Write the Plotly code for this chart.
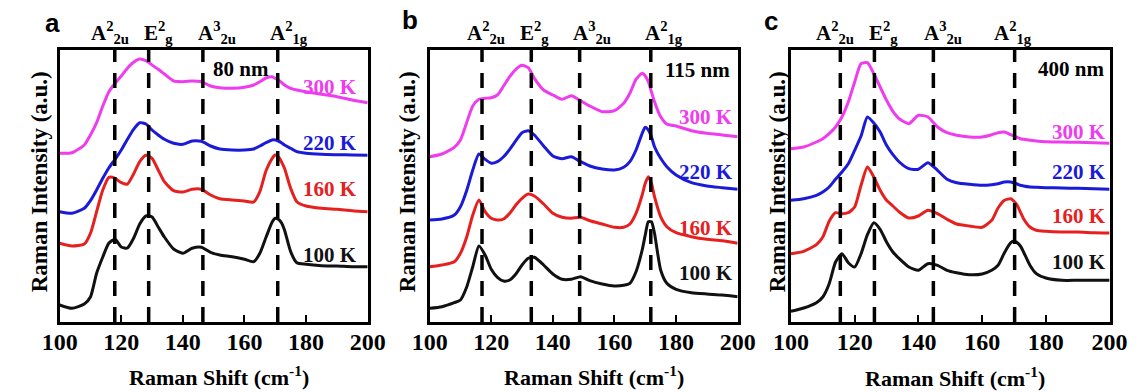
import plotly.graph_objects as go

# Raman shift grid (cm^-1), shared by all curves
X = [100, 104, 108, 110, 112, 114, 116, 118, 120, 122, 124, 126, 128, 130, 132, 134, 137, 140, 143,
     146, 149, 152, 156, 160, 163, 165, 167, 169, 170, 171, 172, 173, 175, 177, 180, 185, 190, 195, 200]

# Panel a (80 nm) intensities (a.u., offset stacked)
a_100K = [17, 13.7, 18, 25, 48.7, 65, 79, 82.7, 75, 74, 83.7, 98, 106, 105, 95, 85, 73, 68.7, 73.7, 74.7,
          69.7, 67, 65.3, 62.7, 60.3, 68.7, 84.7, 100, 103.7, 102.7, 99.3, 92, 70.3, 59.3, 57.7, 56.3, 56, 55.3, 55.3]
a_160K = [78.7, 76, 78, 88.7, 110.3, 132, 144.7, 143.7, 139.3, 138, 148, 160.3, 166.7, 163.7, 152, 140.3, 131.3,
          130, 132.7, 132.7, 127, 123.3, 122, 121, 120, 130.3, 151.3, 163.7, 167, 165.3, 160.3, 153.7, 133.7,
          120.3, 116, 113.7, 112.7, 111.3, 110.3]
a_220K = [110.3, 108.7, 113.7, 121.3, 132, 143.7, 154.3, 162.7, 172, 182.7, 192.7, 199.3, 198, 192, 187, 182.7,
          178.7, 177.7, 181, 180.7, 176, 173, 172, 172, 173, 176, 179.3, 182, 182, 181, 179.3, 177, 173.7, 170.3,
          168.7, 167.7, 167.3, 167, 166.7]
a_300K = [168.7, 169.3, 177, 187, 199.3, 216, 230.3, 238.7, 246, 253.7, 259.7, 263, 261.3, 257, 252.7, 248, 241,
          240.3, 241, 240.3, 236, 234.3, 233.7, 234.7, 237, 240.3, 244, 245.3, 243.7, 242, 239.7, 237, 233.7, 232,
          230.3, 227.7, 225.3, 222, 219.3]

# Panel b (115 nm)
b_100K = [13.7, 15.3, 19.3, 22, 34.7, 55.3, 76, 67, 52.7, 44.7, 41, 42, 48, 57, 63.7, 64.7, 57, 48, 42.7, 42.7,
          45.3, 41.3, 38, 36, 36.7, 38.7, 50.3, 72, 87, 100.3, 100.3, 88.7, 52, 38.7, 32.7, 29.3, 28, 27, 25.3]
b_160K = [55.3, 57, 60.3, 68.7, 84.7, 107, 122, 110.3, 103.7, 102, 103, 108.7, 117, 123.7, 128, 126, 118, 108.7,
          104.7, 103.7, 104.7, 101.3, 98, 94.7, 94.7, 98, 108.7, 127, 138.7, 145.3, 138.7, 125.3, 105.3, 95.3,
          89.3, 85.3, 82.7, 81.3, 78.7]
b_220K = [102, 103, 107, 115.3, 131.3, 152, 168, 162.7, 158.7, 160.3, 165.3, 172.7, 181.3, 189.3, 191.3, 187,
          176, 166, 163.3, 165.3, 160.3, 156, 153, 152, 154.7, 160.3, 172, 188.7, 194.7, 192, 185.3, 175.3, 163.7,
          155.3, 147, 139.3, 136, 134.3, 132.7]
b_300K = [165.3, 168, 174.7, 182, 199.3, 216, 222.7, 223.7, 224.3, 227, 236, 245.3, 252.7, 256.7, 254.3, 243.7,
          232, 227, 222.7, 226.3, 221.3, 216, 210.3, 211.3, 218.7, 228.7, 242.7, 248.7, 246, 240.3, 230.3, 220.3,
          205.3, 198, 196, 191.3, 188.7, 187, 185.3]

# Panel c (400 nm)
c_100K = [10.7, 14, 19.3, 25, 38.3, 60, 68.3, 59.3, 55, 68.3, 87.3, 99.3, 92.7, 80, 70, 63.3, 55, 51.7, 58.3,
          56.7, 51.7, 49.3, 47.3, 48, 51.7, 56.7, 69.3, 79.3, 81, 79.3, 76, 70, 56.7, 48.3, 44, 41.7, 41.7, 41.7, 41.7]
c_160K = [68.3, 70.7, 77.3, 85, 100.7, 109.3, 108.3, 109.3, 115, 136.7, 155, 145, 131.7, 121.7, 116, 110, 104,
          106, 111.7, 108.3, 102.7, 98, 96, 94.7, 101.7, 114, 121.7, 123.3, 120.7, 116.7, 110, 103.3, 95, 91.7,
          90.7, 90, 90, 89.3, 89]
c_220K = [121.7, 123.3, 126.7, 130, 135, 142.7, 150, 158.3, 171.7, 186, 205, 199, 190, 176.7, 167.3, 160, 153.3,
          152.7, 159.3, 151.7, 142.7, 139.3, 137.7, 136.7, 137.3, 138.3, 140, 140, 139, 138, 136.7, 136, 135,
          134.7, 134.3, 134, 133.7, 133.3, 132.7]
c_300K = [173.3, 175, 180, 183.3, 188.3, 195, 205, 220, 240, 258.3, 259.3, 248.3, 235, 221.7, 210.7, 203.3,
          198.3, 206.7, 205, 195, 189.3, 186.7, 185, 185, 187.3, 189.3, 190, 187.3, 186, 184.7, 183.3, 182.7,
          181.7, 181, 180.3, 180, 179.7, 179.3, 178.7]

temps = ["100 K", "160 K", "220 K", "300 K"]
colors = ["#111111", "#e5201e", "#1a1ad8", "#ee3cee"]
thickness = ["80 nm", "115 nm", "400 nm"]
panel_letters = ["a", "b", "c"]
mode_labels = ["A<sup>2</sup><sub>2u</sub>", "E<sup>2</sup><sub>g</sub>",
               "A<sup>3</sup><sub>2u</sub>", "A<sup>2</sup><sub>1g</sub>"]
tick_values = [100, 120, 140, 160, 180, 200]
mode_positions = [[117.9, 128.9, 146.5, 170.8], [117.0, 133.0, 148.7, 171.8], [115.5, 126.2, 144.7, 170.2]]
mode_label_x = [[116.4, 132.0, 151.0, 174.5], [118.2, 134.0, 152.8, 176.0], [113.7, 128.9, 147.7, 169.6]]
temp_label_y = [[67, 133, 179, 235], [48.7, 93.7, 150.3, 205.3], [59.7, 106.3, 150.3, 189.7]]
temp_label_x = [187.7, 189.6, 190.5]
thick_pos = [(158.8, 253), (187.1, 252), (187.9, 253)]

panels = [[a_100K, a_160K, a_220K, a_300K],
          [b_100K, b_160K, b_220K, b_300K],
          [c_100K, c_160K, c_220K, c_300K]]

W, H = 1146, 392
xdom_px = [(43, 361), (425, 743), (798, 1127)]
ydom = [(392 - 322) / H, (392 - 50) / H]

SERIF = "Liberation Serif"
SANS = "Liberation Sans"


def b(s):
    return "<b>" + s + "</b>"


fig = go.Figure()
annotations = []
shapes = []
layout = {}

for p in range(3):
    sfx = "" if p == 0 else str(p + 1)
    xa, ya = "x" + sfx, "y" + sfx
    for i in range(4):
        fig.add_trace(go.Scatter(x=X, y=panels[p][i], mode="lines", xaxis=xa, yaxis=ya,
                                 line=dict(color=colors[i], width=3, shape="spline", smoothing=0.6),
                                 showlegend=False, hoverinfo="skip"))
    x0, x1 = xdom_px[p]
    layout["xaxis" + sfx] = dict(domain=[x0 / W, x1 / W], range=[100, 200], anchor=ya,
                                 tickmode="array", tickvals=tick_values,
                                 ticktext=[b(str(v)) for v in tick_values],
                                 ticks="inside", ticklen=7, tickwidth=2, tickcolor="black",
                                 ticklabelstandoff=-4,
                                 showline=True, linecolor="black", linewidth=3, mirror=True,
                                 showgrid=False, zeroline=False,
                                 tickfont=dict(family=SERIF, size=24, color="black"))
    layout["yaxis" + sfx] = dict(domain=ydom, range=[0, 272], anchor=xa,
                                 showticklabels=False, ticks="", showline=True, linecolor="black",
                                 linewidth=3, mirror=True, showgrid=False, zeroline=False)
    for xv in mode_positions[p]:
        shapes.append(dict(type="line", xref=xa, yref=ya + " domain", x0=xv, x1=xv, y0=0, y1=1,
                           line=dict(color="black", width=3.5, dash="15px,11px")))
    for lab, xv in zip(mode_labels, mode_label_x[p]):
        annotations.append(dict(text=b(lab), xref=xa, yref="paper", x=xv, y=1 - 33 / H,
                                showarrow=False, xanchor="center", yanchor="middle",
                                font=dict(family=SERIF, size=21, color="black")))
    for i in range(4):
        annotations.append(dict(text=b(temps[i]), xref=xa, yref=ya, x=temp_label_x[p], y=temp_label_y[p][i],
                                showarrow=False, xanchor="center", yanchor="middle",
                                font=dict(family=SERIF, size=21, color=colors[i])))
    annotations.append(dict(text=b(thickness[p]), xref=xa, yref=ya, x=thick_pos[p][0], y=thick_pos[p][1],
                            showarrow=False, xanchor="center", yanchor="middle",
                            font=dict(family=SERIF, size=21, color="black")))

xt_center = [208, 595, 967]
xt_y = [376, 376, 377]
yt_x = [22, 402, 784]
letter_pos = [(36, 23), (405, 20), (777, 21)]
for p in range(3):
    annotations.append(dict(text=b("Raman Shift (cm<sup>-1</sup>)"), xref="paper", yref="paper",
                            x=xt_center[p] / W, y=1 - xt_y[p] / H, showarrow=False,
                            xanchor="center", yanchor="middle",
                            font=dict(family=SERIF, size=22, color="black")))
    annotations.append(dict(text=b("Raman Intensity (a.u.)"), xref="paper", yref="paper",
                            x=yt_x[p] / W, y=1 - 182 / H, showarrow=False, textangle=-90,
                            xanchor="center", yanchor="middle",
                            font=dict(family=SERIF, size=23, color="black")))
    annotations.append(dict(text=b(panel_letters[p]), xref="paper", yref="paper",
                            x=letter_pos[p][0] / W, y=1 - letter_pos[p][1] / H, showarrow=False,
                            xanchor="center", yanchor="middle",
                            font=dict(family=SANS, size=26, color="black")))

fig.update_layout(width=W, height=H, margin=dict(l=0, r=0, t=0, b=0),
                  font=dict(family=SERIF, color="black"),
                  paper_bgcolor="white", plot_bgcolor="white",
                  annotations=annotations, shapes=shapes, **layout)

fig.write_html("out.html")
